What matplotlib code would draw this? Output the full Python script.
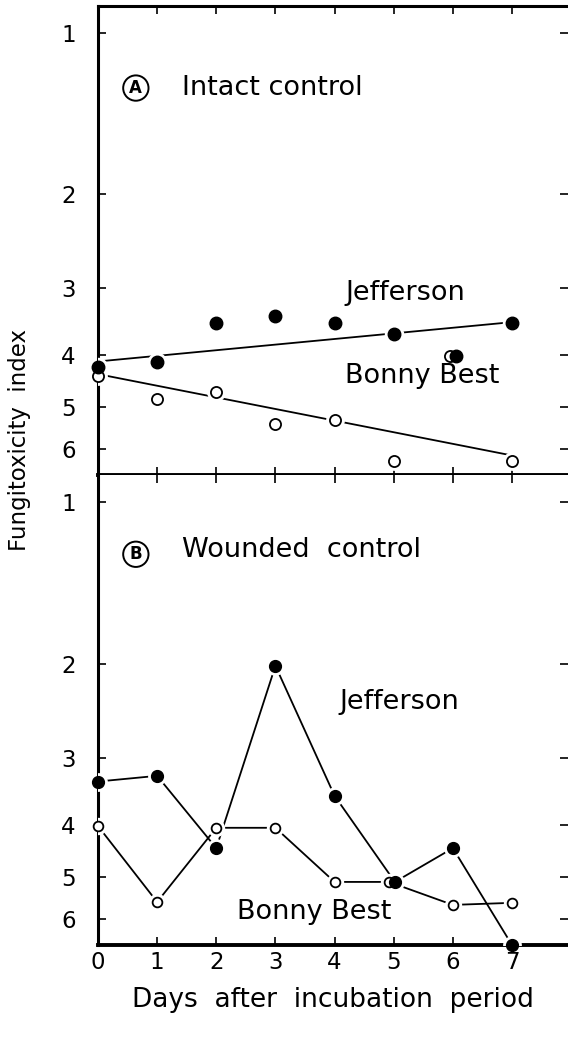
import matplotlib
matplotlib.use('Agg')
import matplotlib.pyplot as plt
from matplotlib.ticker import NullLocator, FixedLocator, FixedFormatter

plt.rcParams['font.family'] = ['DejaVu Sans']

# panel A: intact control
a_jef_days = [0, 1, 2, 3, 4, 5, 6.05, 7]
a_jef = [4.21, 4.12, 3.48, 3.38, 3.48, 3.65, 4.02, 3.48]
a_bb_days = [0, 1, 2, 3, 4, 5, 5.95, 7]
a_bb = [4.38, 4.83, 4.69, 5.38, 5.29, 6.31, 4.02, 6.31]
fit_days = [0, 7]
a_jef_fit = [4.11, 3.47]
a_bb_fit = [4.34, 6.16]

# panel B: wounded control
b_jef_days = [0, 1, 2, 3, 4, 5.02, 6, 7]
b_jef = [3.32, 3.24, 4.42, 2.02, 3.53, 5.11, 4.42, 6.70]
b_bb_days = [0, 1, 2, 3, 4, 4.92, 6, 7]
b_bb = [4.02, 5.57, 4.05, 4.05, 5.11, 5.11, 5.64, 5.59]

yticks = [1, 2, 3, 4, 5, 6]
xticks = [0, 1, 2, 3, 4, 5, 6, 7]

fig = plt.figure(figsize=(5.68, 10.4), dpi=100)
axA = fig.add_axes([98/568, 1-475/1040, 1-98/568, (475-6)/1040])
axB = fig.add_axes([98/568, 1-945/1040, 1-98/568, (945-475)/1040])


def markers(ax, x, y, filled, size):
    # white halo so lines stop short of the points (clipped so it never hides tick labels)
    ax.plot(x, y, 'o', ms=size+4, mfc='white', mec='white', zorder=3)
    if filled:
        ax.plot(x, y, 'o', ms=size, mfc='black', mec='black', zorder=5, clip_on=False)
    else:
        ax.plot(x, y, 'o', ms=size-0.5, mfc='white', mec='black', mew=1.3, zorder=4, clip_on=False)


for ax in (axA, axB):
    ax.set_yscale('log')
    ax.set_ylim(6.7, 0.89)
    ax.set_xlim(0, 7.947)
    ax.yaxis.set_major_locator(FixedLocator(yticks))
    ax.yaxis.set_major_formatter(FixedFormatter([str(v) for v in yticks]))
    ax.yaxis.set_minor_locator(NullLocator())
    ax.set_xticks(xticks)
    ax.spines['right'].set_visible(False)
    ax.spines['left'].set_linewidth(2.2)
    ax.spines['bottom'].set_linewidth(2.8)
    ax.spines['top'].set_linewidth(2.2)
    ax.tick_params(axis='y', which='both', direction='in', length=6, width=1.2,
                   left=True, right=True, labelsize=16.5, pad=16)
    ax.tick_params(axis='x', direction='in', length=6, width=1.2, top=True,
                   bottom=True, labelsize=16.5, pad=4)

axA.tick_params(axis='x', labelbottom=False)
axB.spines['top'].set_visible(False)

# panel A
axA.plot(fit_days, a_jef_fit, color='black', lw=1.3, zorder=2)
axA.plot(fit_days, a_bb_fit, color='black', lw=1.3, zorder=2)
markers(axA, a_bb_days, a_bb, False, 8.5)
markers(axA, a_jef_days, a_jef, True, 9)

# panel B
axB.plot(b_jef_days, b_jef, color='black', lw=1.3, zorder=2)
axB.plot(b_bb_days, b_bb, color='black', lw=1.3, zorder=2)
markers(axB, b_bb_days, b_bb, False, 7.5)
markers(axB, b_jef_days, b_jef, True, 8.5)

circ = dict(boxstyle='circle,pad=0.22', fc='white', ec='black', lw=1.4)
tk = dict(fontsize=19.5, ha='left', va='center')
axA.text(0.64, 1.267, 'A', fontsize=12, fontweight='bold', ha='center', va='center', bbox=circ)
axA.text(1.42, 1.267, 'Intact control', **tk)
axA.text(4.18, 3.06, 'Jefferson', **tk)
axA.text(4.18, 4.38, 'Bonny Best', **tk)

axB.text(0.64, 1.251, 'B', fontsize=12, fontweight='bold', ha='center', va='center', bbox=circ)
axB.text(1.42, 1.229, 'Wounded  control', **tk)
axB.text(4.09, 2.36, 'Jefferson', **tk)
axB.text(2.35, 5.81, 'Bonny Best', **tk)

fig.text(20/568, 1-440/1040, 'Fungitoxicity  index', rotation=90, fontsize=16.5,
         ha='center', va='center')
fig.text(333/568, 1-1000/1040, 'Days  after  incubation  period', fontsize=19,
         ha='center', va='center')

fig.savefig('out.png', dpi=100)
